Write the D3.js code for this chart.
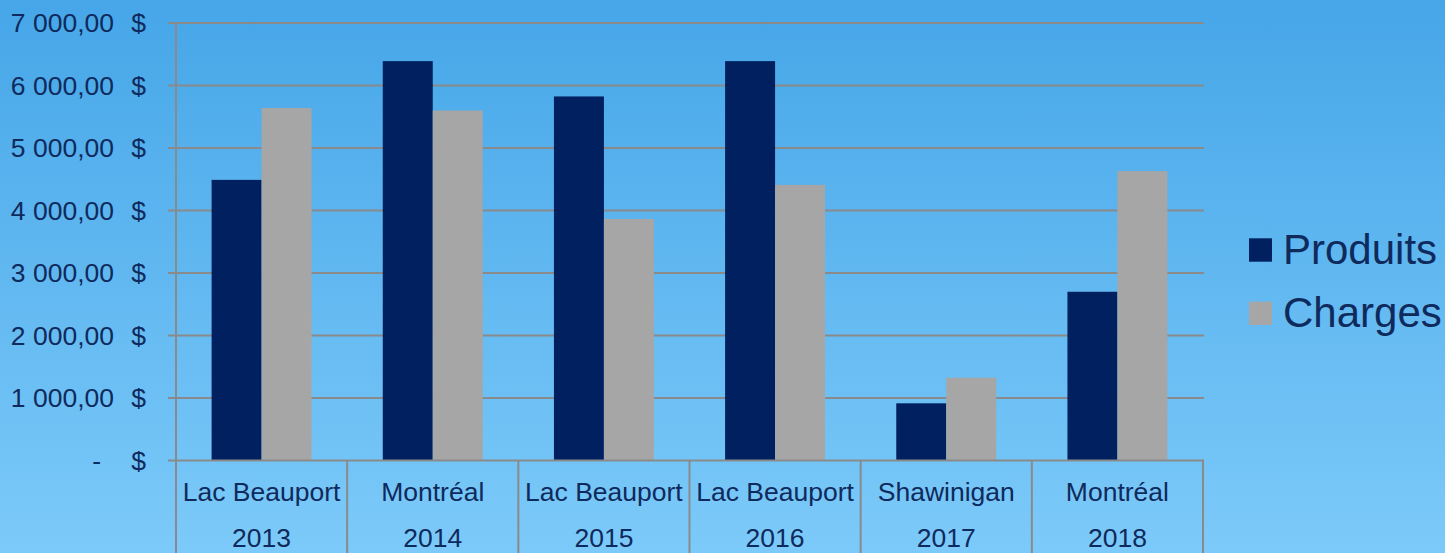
<!DOCTYPE html>
<html><head><meta charset="utf-8">
<script src="https://cdn.jsdelivr.net/npm/d3@7"></script>
<style>html,body{margin:0;padding:0;overflow:hidden;}svg{display:block;}</style>
</head><body>
<svg id="c" width="1445" height="553"></svg>
<script>
const places = ["Lac Beauport","Montréal","Lac Beauport","Lac Beauport","Shawinigan","Montréal"];
const years = ["2013","2014","2015","2016","2017","2018"];
const produits = [4490, 6390, 5825, 6390, 915, 2700];
const charges = [5640, 5600, 3865, 4410, 1325, 4630];
const seriesNames = ["Produits","Charges"];
const yTicks = [0,1000,2000,3000,4000,5000,6000,7000];

const W=1445,H=553;
const svg=d3.select("#c");
const defs=svg.append("defs");
const g=defs.append("linearGradient").attr("id","bg").attr("x1",0).attr("y1",0).attr("x2",0).attr("y2",1);
g.append("stop").attr("offset","0%").attr("stop-color","rgb(70,166,232)");
g.append("stop").attr("offset","100%").attr("stop-color","rgb(124,202,249)");
svg.append("rect").attr("width",W).attr("height",H).attr("fill","url(#bg)");

const pLeft=176,pRight=1203,pTop=23,pBottom=460.5;
const textColor="#0f2a5c", gridColor="#8a8a8a";
const font="Liberation Sans, Arial, sans-serif";
const cats=years.map((yy,i)=>i);
const x=d3.scaleBand().domain(cats).range([pLeft,pRight]).paddingInner(0).paddingOuter(0);
const y=d3.scaleLinear().domain([0,7000]).range([pBottom,pTop]);
const bw=x.bandwidth();
const barW=bw*0.292;

// gridlines
svg.append("g").selectAll("line").data(yTicks.filter(d=>d>0)).join("line")
 .attr("x1",pLeft-8).attr("x2",pRight+1).attr("y1",d=>y(d)).attr("y2",d=>y(d))
 .attr("stroke",gridColor).attr("stroke-width",2);

// bars
const colors=["#00205f","#a6a6a6"];
const data=[produits,charges];
data.forEach((arr,si)=>{
  svg.append("g").selectAll("rect").data(arr).join("rect")
   .attr("x",(d,i)=>x(i)+bw/2-barW+si*barW)
   .attr("y",d=>y(d)).attr("width",barW).attr("height",d=>pBottom-y(d))
   .attr("fill",colors[si]);
});

// y axis line
svg.append("line").attr("x1",pLeft).attr("x2",pLeft).attr("y1",pTop).attr("y2",pBottom)
 .attr("stroke",gridColor).attr("stroke-width",2);
// baseline
svg.append("line").attr("x1",pLeft-8).attr("x2",pRight+1).attr("y1",pBottom).attr("y2",pBottom)
 .attr("stroke",gridColor).attr("stroke-width",2);

// y labels
const fmt=v=>v===0?"-":d3.format(",.2f")(v).replace(/,/g," ").replace(".",",");
const yl=svg.append("g").attr("font-family",font).attr("font-size",26.5).attr("fill",textColor);
yTicks.forEach(v=>{
  yl.append("text").attr("x",v===0?101:114).attr("y",y(v)+9).attr("text-anchor","end").text(fmt(v));
  yl.append("text").attr("x",146).attr("y",y(v)+9).attr("text-anchor","end").text("$");
});

// category separators
const bounds=cats.map(i=>x(i)).concat([pRight]);
svg.append("g").selectAll("line").data(bounds).join("line")
 .attr("x1",d=>d).attr("x2",d=>d).attr("y1",pBottom).attr("y2",H)
 .attr("stroke",gridColor).attr("stroke-width",2);

const cl=svg.append("g").attr("font-family",font).attr("font-size",26.5).attr("fill",textColor).attr("text-anchor","middle");
cats.forEach(i=>{
  cl.append("text").attr("x",x(i)+bw/2).attr("y",501).text(places[i]);
  cl.append("text").attr("x",x(i)+bw/2).attr("y",547).text(years[i]);
});

// legend
const lg=svg.append("g").attr("font-family",font).attr("font-size",42).attr("fill",textColor);
seriesNames.forEach((n,i)=>{
  const cy=250+i*63.3;
  lg.append("rect").attr("x",1249).attr("y",cy-11.7).attr("width",23).attr("height",23.4).attr("fill",colors[i]);
  lg.append("text").attr("x",1283).attr("y",cy+13.5).text(n);
});
</script>
</body></html>
